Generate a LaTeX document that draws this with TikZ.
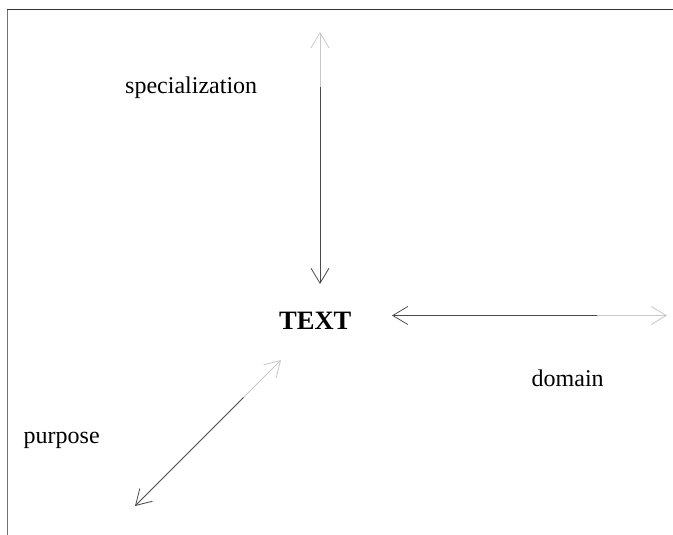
\documentclass[tikz,border=0pt]{standalone}
\usepackage{fontspec}
\setmainfont{Liberation Serif}
\usetikzlibrary{arrows.meta}
\definecolor{inkdark}{HTML}{4A4A4A}
\definecolor{inklight}{HTML}{C8C8C8}
\tikzset{
  barb/.tip={Straight Barb[length=15pt,width=18pt]},
  darkpart/.style={draw=inkdark,line width=0.8pt},
  lightpart/.style={draw=inklight,line width=0.8pt},
  axislabel/.style={font=\fontsize{24}{28}\selectfont,inner sep=0pt,anchor=base west},
  framepart/.style={line width=1.2pt}
}
\begin{document}
\begin{tikzpicture}[x=1pt,y=-1pt]
  \useasboundingbox (0,0) rectangle (673,535);
  % frame along the top and left edges
  \draw[framepart,draw=black!80] (7,9.8) -- (673,9.8);
  \draw[framepart,draw=black!55] (7.7,9.8) -- (7.7,535);

  % central label
  \node[font=\bfseries\fontsize{26.5}{30}\selectfont,inner sep=0pt,anchor=base west] (text) at (279,329.5) {TEXT};

  % axis labels
  \node[axislabel] (spec) at (125,93.3) {specialization};
  \node[axislabel] (dom) at (531.5,386) {domain};
  \node[axislabel] (purp) at (23.5,443.5) {purpose};

  % vertical axis: specialization
  \coordinate (vtop) at (320,32);
  \coordinate (vmid) at (320,87);
  \coordinate (vbot) at (320,284);
  \draw[lightpart,-{barb}] (vmid) -- (vtop);
  \draw[darkpart,-{barb}] (vmid) -- (vbot);

  % horizontal axis: domain
  \coordinate (hleft) at (392,315.5);
  \coordinate (hmid) at (597,315.5);
  \coordinate (hright) at (667,315.5);
  \draw[lightpart,-{barb}] (hmid) -- (hright);
  \draw[darkpart,-{barb}] (hmid) -- (hleft);

  % diagonal axis: purpose
  \coordinate (dlow) at (135,506);
  \coordinate (dmid) at (243.5,397.5);
  \coordinate (dhigh) at (281,360);
  \draw[lightpart,-{barb}] (dmid) -- (dhigh);
  \draw[darkpart,-{barb}] (dmid) -- (dlow);
\end{tikzpicture}
\end{document}
